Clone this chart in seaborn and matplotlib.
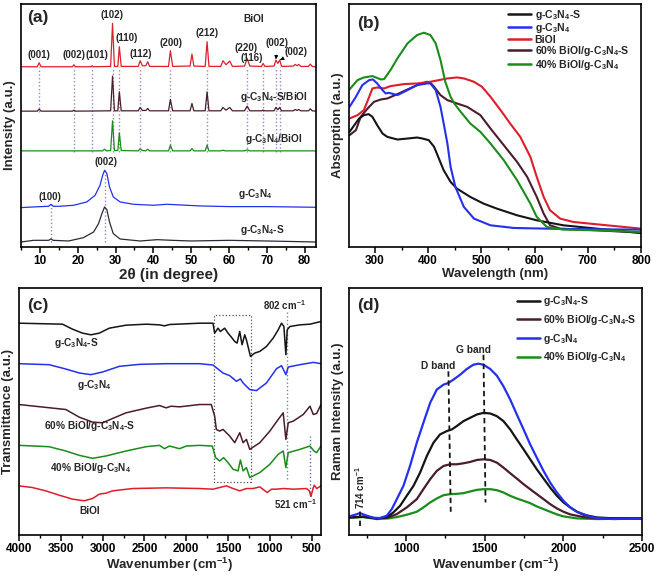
import matplotlib
matplotlib.use("Agg")
import matplotlib.pyplot as plt
import seaborn as sns
from matplotlib.lines import Line2D
from matplotlib.patches import Rectangle
from matplotlib.ticker import MultipleLocator

# ---------------- data ----------------
# (a) XRD, 2theta (deg) vs intensity (a.u., stacked)
xrd_biooi_x = [5, 9.3, 9.8, 10.3, 18.6, 19.0, 19.4, 23.5, 23.8, 24.1, 28.7, 29.2, 29.7, 30.6, 31.0, 31.5,
               36.0, 36.5, 37.1, 38.0, 38.5, 39.0, 44.0, 44.5, 45.1, 48.5, 49.7, 50.2, 50.7, 53.7, 54.2, 54.7,
               57.8, 58.4, 59.2, 60.2, 60.9, 64.1, 64.8, 65.5, 68.6, 69.0, 69.5, 71.9, 72.4, 72.9, 73.4, 73.9,
               77.0, 77.5, 78.0, 78.4, 79.0, 81.0, 81.5, 82.0, 83.0]
xrd_biooi_y = [540, 540, 552, 540, 540, 546, 540, 540, 543, 540, 541, 670, 541, 541, 600, 541,
               541, 558, 543, 543, 555, 541, 541, 588, 541, 542, 542, 578, 542, 541, 615, 541,
               541, 558, 546, 557, 541, 542, 565, 542, 541, 550, 541, 542, 560, 550, 560, 541,
               542, 547, 543, 547, 541, 541, 548, 541, 540]
xrd_sbio_x = [5, 9.3, 9.8, 10.3, 18.6, 19.0, 19.4, 28.7, 29.2, 29.7, 30.6, 31.0, 31.5,
              36.0, 36.5, 37.1, 38.0, 38.5, 39.0, 44.0, 44.5, 45.1, 49.7, 50.2, 50.7, 53.7, 54.2, 54.7,
              57.8, 58.4, 59.2, 60.2, 60.9, 64.1, 64.8, 65.5, 68.6, 69.0, 69.5, 71.9, 72.4, 72.9, 73.4, 73.9,
              77.0, 77.5, 78.0, 78.4, 79.0, 81.0, 81.5, 82.0, 83.0]
xrd_sbio_y = [407, 407, 413, 407, 407, 410, 407, 408, 512, 408, 408, 465, 408,
              408, 418, 409, 409, 415, 408, 408, 442, 408, 408, 430, 408, 408, 465, 408,
              408, 418, 410, 418, 408, 408, 422, 408, 408, 410, 408, 408, 418, 411, 418, 408,
              408, 412, 409, 412, 408, 408, 414, 408, 407]
xrd_gbio_x = [5, 26.6, 27.1, 27.6, 28.7, 29.2, 29.7, 30.6, 31.0, 31.5, 36.0, 36.5, 37.1, 38.0, 38.5, 39.0,
              44.0, 44.5, 45.1, 49.7, 50.2, 50.7, 53.7, 54.2, 54.7, 57.8, 58.4, 59.0, 64.1, 64.8, 65.5, 83.0]
xrd_gbio_y = [288, 288, 293, 288, 289, 378, 289, 289, 342, 289, 288, 294, 289, 288, 293, 288,
              288, 305, 288, 288, 295, 288, 288, 305, 288, 288, 290, 288, 288, 291, 288, 288]
xrd_g_x = [5, 8.3, 12.3, 12.9, 13.5, 15.3, 18.9, 22.4, 24.6, 25.9, 26.6, 27.1, 27.7, 28.4, 29.4, 31.2,
           34.7, 40.0, 43.6, 52.4, 60.0, 70.0, 83.0]
xrd_g_y = [118, 120, 122, 128, 122, 122, 125, 135, 155, 185, 215, 230, 220, 180, 150, 135,
           128, 125, 128, 123, 121, 121, 119]
xrd_gs_x = [5, 8.3, 12.3, 12.9, 13.5, 17.6, 21.5, 24.2, 25.5, 26.4, 27.1, 27.7, 28.4, 29.4, 31.2,
            36.5, 41.0, 45.0, 50.0, 60.0, 70.0, 83.0]
xrd_gs_y = [15, 20, 20, 24, 20, 18, 28, 45, 70, 100, 120, 112, 75, 40, 24,
            18, 22, 20, 18, 20, 18, 15]
xrd_bio_lines = [19.0, 23.8, 29.2, 31.0, 36.5, 44.5, 54.2, 64.8, 69.0, 72.4, 73.4]
xrd_hkl_labels = ["(001)", "(002)", "(101)", "(102)", "(110)", "(112)", "(200)", "(212)", "(220)", "(116)"]
xrd_hkl_x = [9.8, 18.9, 25.0, 29.0, 33.0, 36.7, 44.6, 54.2, 64.6, 66.1]
xrd_hkl_y = [575, 575, 575, 695, 625, 577, 610, 640, 595, 567]

# (b) UV-vis absorption, wavelength (nm)
uv_gs_x = [252, 261, 270, 279, 288, 295, 304, 314, 323, 342, 361, 379, 389, 401, 411, 420, 429, 442, 454,
           479, 504, 529, 567, 604, 654, 717, 800]
uv_gs_y = [345, 365, 385, 395, 398, 390, 365, 340, 330, 322, 325, 328, 325, 320, 300, 265, 230, 195, 175,
           150, 130, 115, 95, 80, 65, 55, 42]
uv_g_x = [252, 264, 276, 289, 296, 304, 314, 320, 326, 342, 361, 379, 398, 404, 414, 423, 429, 436, 442,
          451, 467, 486, 517, 561, 654, 800]
uv_g_y = [420, 450, 485, 500, 502, 490, 470, 460, 462, 455, 470, 485, 490, 490, 470, 420, 370, 310, 240,
          180, 120, 85, 65, 57, 54, 52]
uv_bio_x = [252, 267, 279, 289, 295, 304, 317, 329, 354, 379, 404, 436, 454, 467, 486, 501, 517, 536, 554,
            573, 592, 604, 617, 629, 648, 673, 717, 800]
uv_bio_y = [385, 395, 410, 450, 475, 478, 475, 482, 488, 490, 495, 505, 508, 505, 495, 480, 450, 410, 370,
            330, 270, 210, 150, 110, 85, 75, 68, 55]
uv_60_x = [252, 264, 273, 286, 298, 311, 323, 342, 361, 379, 398, 404, 411, 423, 436, 454, 473, 498, 517,
           542, 567, 586, 604, 617, 629, 648, 717, 800]
uv_60_y = [335, 350, 390, 415, 435, 442, 445, 458, 472, 485, 495, 492, 480, 455, 440, 430, 420, 395, 355,
           305, 255, 210, 150, 100, 65, 55, 50, 43]
uv_40_x = [252, 267, 279, 295, 311, 317, 329, 342, 361, 379, 392, 404, 414, 423, 432, 442, 449, 461, 479,
           498, 517, 542, 567, 592, 604, 623, 654, 717, 800]
uv_40_y = [472, 500, 508, 512, 502, 503, 530, 565, 610, 635, 642, 635, 610, 560, 495, 450, 430, 405, 370,
           345, 310, 260, 200, 130, 90, 60, 52, 50, 45]

# (c) FTIR, wavenumber (cm-1)
ir_gs_x = [4000, 3480, 3360, 3240, 3140, 3040, 2920, 2720, 2480, 2320, 2260, 2200, 1840, 1680, 1660, 1620,
           1592, 1540, 1500, 1460, 1420, 1392, 1360, 1332, 1300, 1280, 1232, 1180, 1120, 1040, 960, 900,
           860, 832, 808, 792, 760, 640, 520, 440, 388]
ir_gs_y = [638, 635, 620, 608, 603, 608, 623, 632, 635, 633, 630, 634, 638, 638, 608, 623,
           613, 623, 608, 596, 583, 578, 613, 573, 603, 588, 538, 548, 553, 568, 593, 618,
           638, 628, 543, 618, 628, 633, 635, 640, 643]
ir_g_x = [4000, 3640, 3440, 3280, 3140, 3000, 2800, 2560, 2240, 1840, 1680, 1560, 1480, 1400, 1352, 1320,
          1240, 1160, 1040, 920, 860, 808, 780, 640, 480, 388]
ir_g_y = [516, 513, 500, 488, 483, 491, 508, 514, 516, 516, 512, 488, 480, 463, 470, 458,
          438, 435, 458, 501, 510, 483, 506, 513, 520, 516]
ir_60_x = [4000, 3440, 3280, 3120, 3000, 2880, 2720, 2480, 2320, 2240, 2180, 2080, 1840, 1700, 1660, 1640,
           1600, 1560, 1480, 1420, 1360, 1320, 1280, 1240, 1120, 1000, 900, 840, 808, 780, 720, 600,
           520, 480, 440, 388]
ir_60_y = [393, 378, 355, 340, 338, 351, 368, 382, 390, 383, 388, 386, 393, 393, 358, 318,
           313, 318, 298, 278, 308, 278, 288, 258, 278, 313, 348, 368, 288, 338, 343, 363,
           388, 363, 366, 393]
ir_40_x = [4000, 3640, 3440, 3280, 3120, 2960, 2720, 2480, 2320, 2260, 2200, 2080, 2000, 1840, 1688, 1648,
           1600, 1552, 1500, 1440, 1380, 1352, 1320, 1280, 1240, 1120, 1000, 900, 840, 808, 780, 640,
           520, 472, 440, 388]
ir_40_y = [270, 266, 253, 240, 231, 238, 253, 266, 270, 260, 268, 260, 268, 270, 268, 233,
           223, 233, 218, 198, 193, 226, 193, 203, 173, 188, 213, 243, 253, 203, 248, 258,
           268, 253, 248, 268]
ir_bio_x = [4000, 3840, 3680, 3520, 3360, 3220, 3120, 3040, 2960, 2880, 2640, 2240, 1840, 1680, 1520, 1440,
            1360, 1280, 1200, 1120, 1032, 980, 920, 840, 720, 560, 528, 508, 480, 468, 440, 388]
ir_bio_y = [148, 143, 133, 120, 108, 103, 110, 123, 126, 133, 140, 142, 140, 138, 148, 140,
            133, 140, 140, 145, 128, 138, 138, 140, 138, 140, 133, 116, 143, 150, 140, 148]

# (d) Raman, wavenumber (cm-1)
ra_g_x = [637, 675, 707, 739, 792, 835, 877, 909, 941, 983, 1025, 1068, 1110, 1153, 1195, 1238, 1269, 1301,
          1344, 1386, 1428, 1460, 1492, 1535, 1577, 1619, 1662, 1704, 1747, 1789, 1831, 1874, 1916, 1959,
          2001, 2044, 2086, 2128, 2171, 2213, 2319, 2500]
ra_g_y = [56, 61, 66, 60, 52, 51, 58, 78, 108, 148, 208, 278, 338, 398, 438, 453, 458, 468,
          483, 500, 513, 516, 513, 500, 480, 448, 408, 363, 318, 273, 233, 193, 158, 128,
          103, 83, 70, 63, 55, 51, 48, 50]
ra_gs_x = [637, 728, 813, 877, 919, 962, 1004, 1047, 1089, 1132, 1174, 1216, 1259, 1291, 1322, 1365, 1407,
           1450, 1492, 1535, 1577, 1619, 1662, 1704, 1747, 1789, 1831, 1874, 1916, 1959, 2001, 2044, 2086,
           2128, 2213, 2319, 2500]
ra_gs_y = [53, 55, 50, 53, 68, 88, 118, 148, 188, 238, 278, 303, 313, 318, 328, 343, 353,
           363, 368, 366, 358, 343, 318, 288, 258, 228, 198, 170, 143, 118, 98, 83, 70,
           61, 53, 50, 50]
ra_60_x = [637, 728, 813, 888, 941, 1004, 1068, 1110, 1153, 1195, 1238, 1280, 1322, 1365, 1407, 1450, 1492,
           1535, 1577, 1619, 1662, 1704, 1747, 1789, 1831, 1874, 1916, 1959, 2001, 2044, 2128, 2213, 2500]
ra_60_y = [53, 55, 50, 53, 63, 83, 108, 138, 168, 193, 208, 213, 213, 216, 220, 226, 228,
           226, 218, 203, 186, 170, 153, 138, 123, 108, 93, 80, 70, 62, 54, 50, 50]
ra_40_x = [637, 728, 813, 888, 941, 1004, 1068, 1110, 1153, 1195, 1238, 1280, 1322, 1365, 1407, 1450, 1492,
           1535, 1577, 1619, 1662, 1704, 1747, 1789, 1831, 1874, 1916, 1959, 2001, 2086, 2213, 2500]
ra_40_y = [52, 54, 48, 50, 54, 61, 70, 83, 98, 110, 120, 123, 124, 126, 131, 136, 138,
           138, 135, 128, 118, 110, 103, 96, 86, 78, 70, 62, 56, 50, 48, 50]

# ---------------- style ----------------
sns.set_style("ticks")
plt.rcParams.update({
    "font.family": ["Liberation Sans", "DejaVu Sans"],
    "font.weight": "bold",
    "axes.labelweight": "bold",
    "mathtext.fontset": "custom",
    "mathtext.rm": "Liberation Sans:bold",
    "mathtext.bf": "Liberation Sans:bold",
    "mathtext.it": "Liberation Sans:bold",
    "mathtext.default": "bf",
    "axes.edgecolor": "black",
    "xtick.color": "black",
    "axes.linewidth": 1.2,
})

BLACK = "#151515"
DGRAY = "#2b2b38"
BLUE = "#2530ec"
RED = "#dc1f2b"
MAROON = "#4a1c2c"
GREEN = "#1b8c1b"
LAV = "#9a84c8"

GCN = "g-C$_3$N$_4$"
GCNS = "g-C$_3$N$_4$-S"

fig = plt.figure(figsize=(6.57, 5.76), dpi=100)
fig.patch.set_facecolor("white")
axa = fig.add_axes([21/657, 1-247/576, 295/657, 243/576])
axb = fig.add_axes([349/657, 1-247/576, 292/657, 243/576])
axc = fig.add_axes([19/657, 1-535/576, 302/657, 247/576])
axd = fig.add_axes([349/657, 1-535/576, 293/657, 247/576])


def curve(ax, x, y, color, lw):
    sns.lineplot(x=x, y=y, ax=ax, color=color, lw=lw, sort=False, estimator=None, legend=False)


def style(ax, major, minor, xlabel, ylabel, xlsize=9.5):
    ax.set_yticks([])
    ax.xaxis.set_major_locator(MultipleLocator(major))
    ax.xaxis.set_minor_locator(MultipleLocator(minor))
    ax.tick_params(axis="x", which="major", direction="out", length=4, width=1.1, labelsize=8.5, pad=1.5)
    ax.tick_params(axis="x", which="minor", direction="out", length=2.5, width=1.0)
    ax.set_xlabel(xlabel, fontsize=xlsize, labelpad=1)
    ax.set_ylabel(ylabel, fontsize=9.5)
    ax.yaxis.set_label_coords(-0.018, 0.5)
    for s in ax.spines.values():
        s.set_visible(True)
        s.set_linewidth(1.2)
        s.set_color("black")


# ---------------- (a) ----------------
ax = axa
for xv in xrd_bio_lines:
    ax.plot([xv, xv], [285, 540], ls=":", color=LAV, lw=1.0, zorder=1)
ax.plot([9.8, 9.8], [405, 540], ls=":", color=LAV, lw=1.0, zorder=1)
ax.plot([12.9, 12.9], [16, 135], ls=":", color=LAV, lw=1.0, zorder=1)
ax.plot([27.1, 27.1], [16, 230], ls=":", color=LAV, lw=1.0, zorder=1)
curve(ax, xrd_biooi_x, xrd_biooi_y, RED, 0.9)
curve(ax, xrd_sbio_x, xrd_sbio_y, MAROON, 0.9)
curve(ax, xrd_gbio_x, xrd_gbio_y, GREEN, 0.9)
curve(ax, xrd_g_x, xrd_g_y, BLUE, 0.9)
curve(ax, xrd_gs_x, xrd_gs_y, DGRAY, 0.9)
for lab, xv, yv in zip(xrd_hkl_labels, xrd_hkl_x, xrd_hkl_y):
    ax.text(xv, yv, lab, ha="center", va="center", fontsize=7)
ax.annotate("(002)", xy=(72.4, 562), xytext=(72.8, 612), ha="center", va="center", fontsize=7,
            arrowprops=dict(arrowstyle="-|>", color="black", lw=0.7, mutation_scale=5, shrinkA=3, shrinkB=0))
ax.annotate("(002)", xy=(73.5, 560), xytext=(77.6, 585), ha="center", va="center", fontsize=7,
            arrowprops=dict(arrowstyle="-|>", color="black", lw=0.7, mutation_scale=5, shrinkA=4, shrinkB=0))
ax.text(66.5, 682, "BiOI", ha="center", va="center", fontsize=7.3)
ax.text(71.8, 450, GCNS + "/BiOI", ha="center", va="center", fontsize=7.3)
ax.text(71.8, 325, GCN + "/BiOI", ha="center", va="center", fontsize=7.3)
ax.text(27.4, 255, "(002)", ha="center", va="center", fontsize=7)
ax.text(12.7, 150, "(100)", ha="center", va="center", fontsize=7)
ax.text(67.0, 160, GCN, ha="center", va="center", fontsize=7.3)
ax.text(68.7, 50, GCNS, ha="center", va="center", fontsize=7.3)
ax.text(0.02, 0.944, "(a)", transform=ax.transAxes, ha="left", va="center", fontsize=12.5)
ax.set_xlim(5, 83)
ax.set_ylim(0, 728)
style(ax, 10, 5, "2\u03b8 (in degree)", "Intensity (a.u.)", xlsize=11)

# ---------------- (b) ----------------
ax = axb
curve(ax, uv_60_x, uv_60_y, MAROON, 1.5)
curve(ax, uv_bio_x, uv_bio_y, RED, 1.5)
curve(ax, uv_gs_x, uv_gs_y, BLACK, 1.5)
curve(ax, uv_g_x, uv_g_y, BLUE, 1.5)
curve(ax, uv_40_x, uv_40_y, GREEN, 1.5)
ax.set_xlim(251, 800)
ax.set_ylim(0, 728)
hb = [Line2D([], [], color=c, lw=1.8) for c in [BLACK, BLUE, RED, MAROON, GREEN]]
lb = [GCNS, GCN, "BiOI", "60% BiOI/" + GCNS, "40% BiOI/" + GCN]
ax.legend(hb, lb, loc="upper left", bbox_to_anchor=(0.545, 0.985), frameon=False, fontsize=7.6,
          handlelength=2.2, handletextpad=0.3, labelspacing=-0.05, borderpad=0, borderaxespad=0)
ax.text(0.027, 0.92, "(b)", transform=ax.transAxes, ha="left", va="center", fontsize=12.5)
style(ax, 100, 50, "Wavelength (nm)", "Absorption (a.u.)")

# ---------------- (c) ----------------
ax = axc
ax.add_patch(Rectangle((1224, 160), 1668 - 1224, 663 - 160, fill=False, ls=":", lw=0.9, ec="#555555", zorder=1))
ax.plot([800, 800], [168, 678], ls=":", color="#7a86a8", lw=1.0, zorder=1)
ax.plot([520, 520], [118, 298], ls=":", color="#5a66b0", lw=1.0, zorder=1)
curve(ax, ir_gs_x, ir_gs_y, BLACK, 1.1)
curve(ax, ir_g_x, ir_g_y, BLUE, 1.1)
curve(ax, ir_60_x, ir_60_y, MAROON, 1.1)
curve(ax, ir_40_x, ir_40_y, GREEN, 1.1)
curve(ax, ir_bio_x, ir_bio_y, RED, 1.1)
ax.text(820, 693, "802 cm$^{-1}$", ha="center", va="center", fontsize=7)
ax.text(700, 93, "521 cm$^{-1}$", ha="center", va="center", fontsize=7)
ax.text(3320, 578, GCNS, ha="center", va="center", fontsize=7.3)
ax.text(3100, 453, GCN, ha="center", va="center", fontsize=7.3)
ax.text(3160, 328, "60% BiOI/" + GCNS, ha="center", va="center", fontsize=7.3)
ax.text(3140, 203, "40% BiOI/" + GCN, ha="center", va="center", fontsize=7.3)
ax.text(3160, 73, "BiOI", ha="center", va="center", fontsize=7.3)
ax.text(0.026, 0.931, "(c)", transform=ax.transAxes, ha="left", va="center", fontsize=12.5)
ax.set_xlim(4000, 388)
ax.set_ylim(0, 744)
style(ax, 500, 250, "Wavenumber (cm$^{-1}$)", "Transmittance (a.u.)")

# ---------------- (d) ----------------
ax = axd
curve(ax, ra_40_x, ra_40_y, GREEN, 1.6)
curve(ax, ra_60_x, ra_60_y, MAROON, 1.6)
curve(ax, ra_gs_x, ra_gs_y, BLACK, 1.6)
curve(ax, ra_g_x, ra_g_y, BLUE, 1.6)
ax.plot([707, 707], [28, 73], ls="--", color=BLACK, lw=1.3, dashes=(3, 2))
ax.plot([1269, 1284], [493, 70], ls="--", color=BLACK, lw=1.3, dashes=(3, 2))
ax.plot([1492, 1505], [543, 98], ls="--", color=BLACK, lw=1.3, dashes=(3, 2))
ax.text(707, 143, "714 cm$^{-1}$", rotation=90, ha="center", va="center", fontsize=7)
ax.text(1206, 510, "D band", ha="center", va="center", fontsize=7.3)
ax.text(1428, 558, "G band", ha="center", va="center", fontsize=7.3)
hd = [Line2D([], [], color=c, lw=1.8) for c in [BLACK, MAROON, BLUE, GREEN]]
ld = [GCNS, "60% BiOI/" + GCNS, GCN, "40% BiOI/" + GCN]
ax.legend(hd, ld, loc="upper left", bbox_to_anchor=(0.573, 0.975), frameon=False, fontsize=7.5,
          handlelength=2.2, handletextpad=0.3, labelspacing=0.45, borderpad=0, borderaxespad=0)
ax.text(0.027, 0.931, "(d)", transform=ax.transAxes, ha="left", va="center", fontsize=12.5)
ax.set_xlim(637, 2500)
ax.set_ylim(0, 744)
style(ax, 500, 250, "Wavenumber (cm$^{-1}$)", "Raman Intensity (a.u.)")
ax.set_xticks([1000, 1500, 2000, 2500])

fig.savefig("out.png", dpi=100, facecolor="white")
